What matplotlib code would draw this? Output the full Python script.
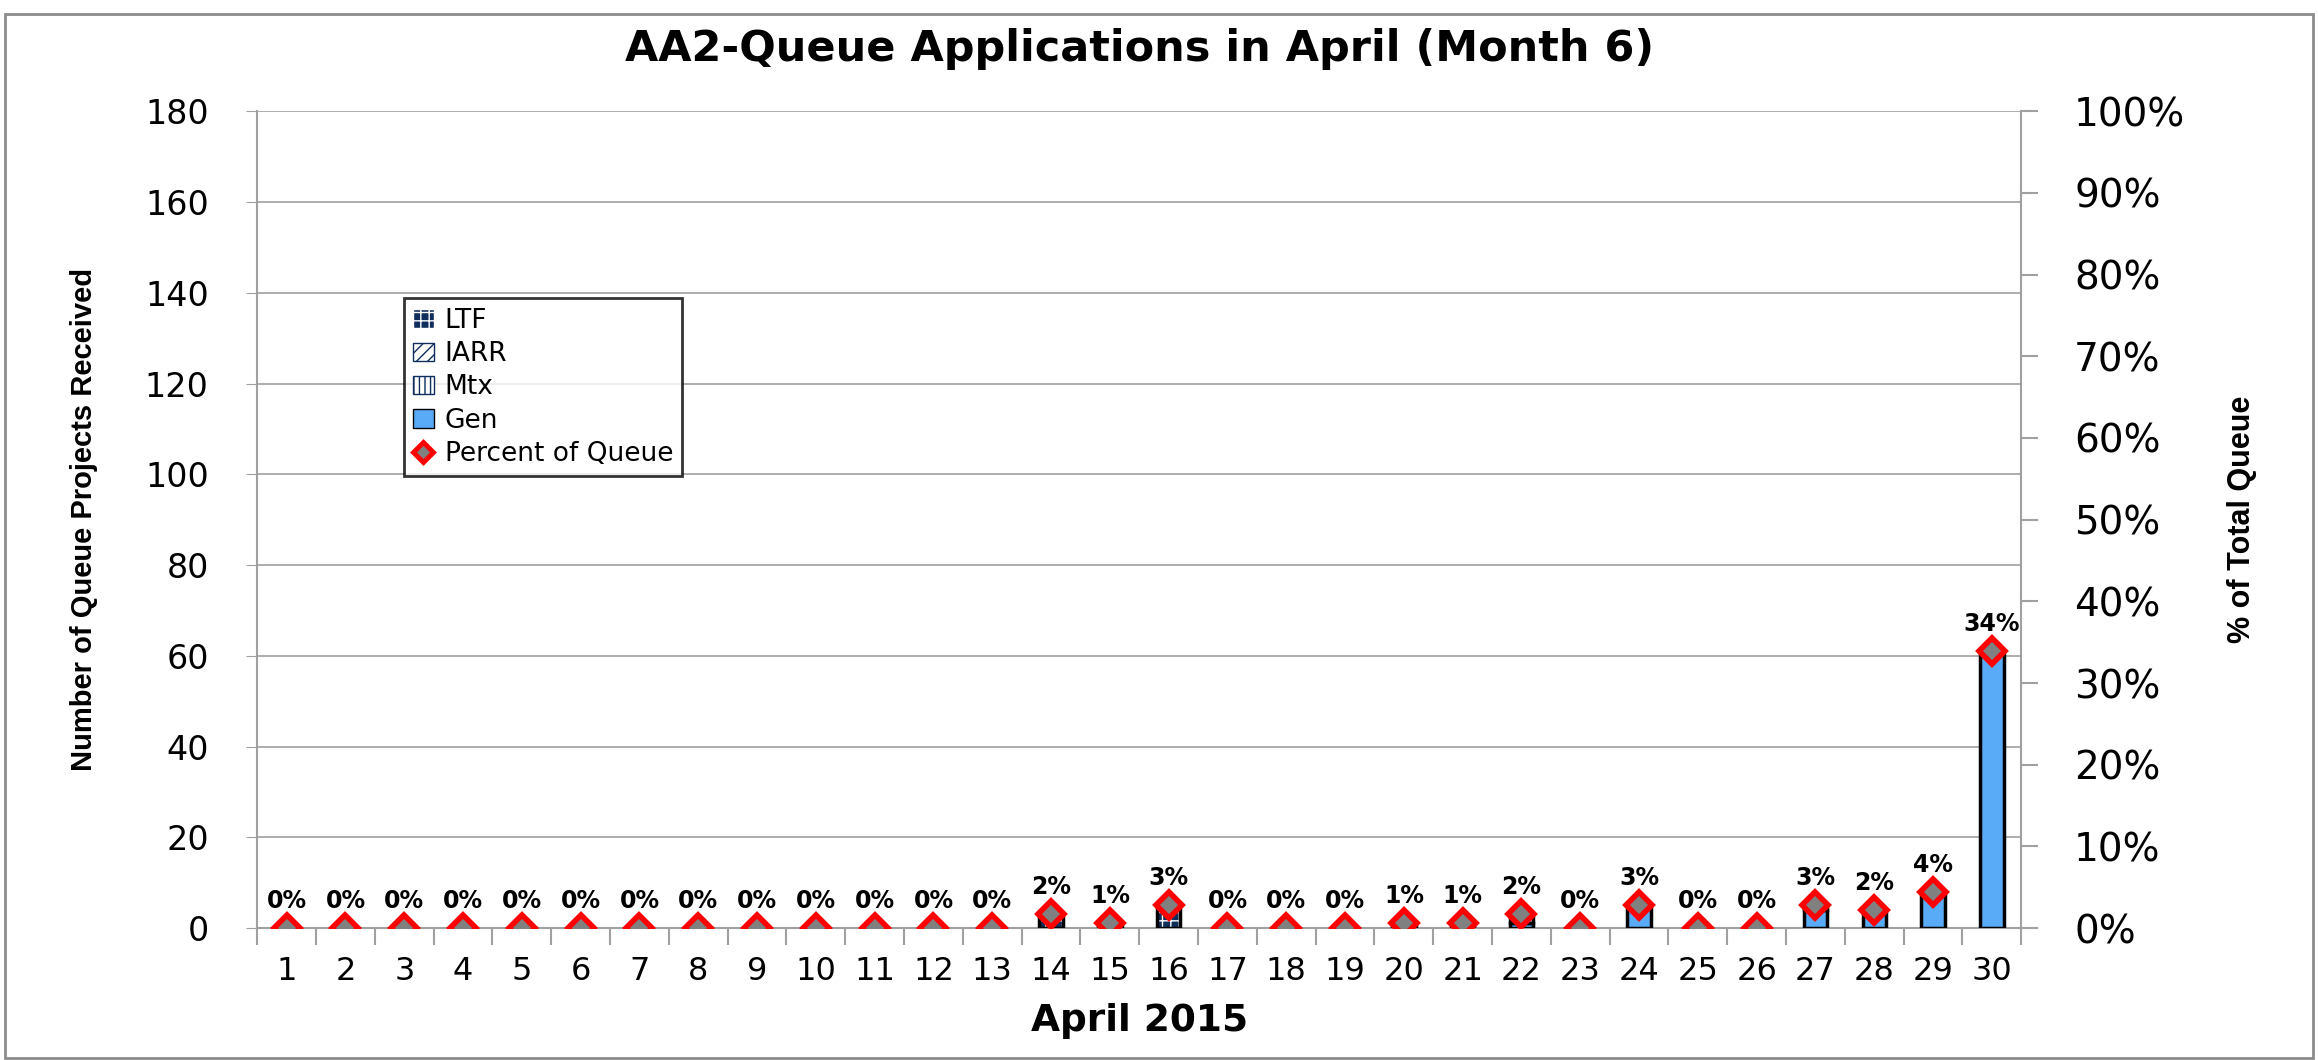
import numpy as np
import matplotlib
matplotlib.use("Agg")
import matplotlib.pyplot as plt
from matplotlib.patches import Patch, Rectangle
from matplotlib.lines import Line2D

# ---- DATA ----
days = list(range(1, 31))
ltf = [0]*13 + [3, 1, 5, 0, 0, 0, 0, 0, 2, 0, 0, 0, 0, 1, 0, 0, 0]
iarr = [0]*30
mtx = [0]*30
gen = [0]*13 + [0, 0, 0, 0, 0, 0, 1, 1, 1, 0, 5, 0, 0, 4, 4, 8, 61]
pct = [0]*13 + [1.7, 0.6, 2.8, 0, 0, 0, 0.6, 0.6, 1.7, 0, 2.8, 0, 0, 2.8, 2.2, 4.4, 33.9]
pct_labels = ["0%"]*13 + ["2%", "1%", "3%", "0%", "0%", "0%", "1%", "1%", "2%", "0%", "3%",
                          "0%", "0%", "3%", "2%", "4%", "34%"]

gen_color = "#5AABF7"
navy = "#0F2E5C"

fig = plt.figure(figsize=(23.18, 10.60), dpi=100)
fig.patches.append(Rectangle((0.002, 0.002), 0.996, 0.985, transform=fig.transFigure,
                             fill=False, edgecolor="#8c8c8c", linewidth=2))
ax = fig.add_axes([0.111, 0.1245, 0.761, 0.7705])

x = np.array(days)
w = 0.4
gen_a = np.array(gen)
ltf_a = np.array(ltf)
iarr_a = np.array(iarr)
mtx_a = np.array(mtx)

# Gen at the bottom, then Mtx, IARR, LTF stacked on top
ax.bar(x, gen_a, w, color=gen_color, edgecolor="black", linewidth=2.5, zorder=3)
b1 = gen_a
ax.bar(x, mtx_a, w, bottom=b1, color="white", edgecolor=navy, hatch="|||", linewidth=0, zorder=3)
b2 = b1 + mtx_a
ax.bar(x, iarr_a, w, bottom=b2, color="white", edgecolor=navy, hatch="///", linewidth=0, zorder=3)
b3 = b2 + iarr_a
ax.bar(x, ltf_a, w, bottom=b3, color=navy, edgecolor="white", hatch="++", linewidth=0, zorder=3)
# outlines for non-gen parts
other = mtx_a + iarr_a + ltf_a
ax.bar(x, other, w, bottom=b1, fill=False, edgecolor="black", linewidth=2.5, zorder=4)

ax.set_ylim(0, 180)
ax.set_xlim(0.5, 30.5)
ax.set_yticks(range(0, 181, 20))
ax.grid(axis="y", color="#a0a0a0", linewidth=1.2, zorder=0)
ax.set_axisbelow(True)
ax.set_xticks(x)
ax.set_xticklabels([str(d) for d in days], fontsize=23)
ax.tick_params(axis="x", length=0, pad=20)
ax.set_xticks(np.arange(0.5, 31, 1), minor=True)
ax.tick_params(axis="x", which="minor", length=12, width=1.5, color="#a0a0a0")
ax.tick_params(axis="y", labelsize=24, length=8, color="#a0a0a0", pad=27)
for s in ["top", "right"]:
    ax.spines[s].set_visible(False)
for s in ["left", "bottom"]:
    ax.spines[s].set_color("#a0a0a0")
    ax.spines[s].set_linewidth(1.5)

ax.set_ylabel("Number of Queue Projects Received", fontsize=21, fontweight="bold",
              family="Liberation Sans", labelpad=34)
ax.set_xlabel("April 2015", fontsize=27, fontweight="bold", labelpad=12)
ax.set_title("AA2-Queue Applications in April (Month 6)", fontsize=31, fontweight="bold", pad=36)

ax2 = ax.twinx()
ax2.set_ylim(0, 100)
ax2.set_yticks(range(0, 101, 10))
ax2.set_yticklabels([f"{v}%" for v in range(0, 101, 10)])
ax2.tick_params(axis="y", labelsize=28, length=12, width=1.5, color="#a0a0a0", pad=26)
for s in ["top", "left", "bottom"]:
    ax2.spines[s].set_visible(False)
ax2.spines["right"].set_color("#a0a0a0")
ax2.spines["right"].set_linewidth(1.5)
ax2.plot(x, pct, linestyle="none", marker="D", markersize=13, markerfacecolor="#808080",
         markeredgecolor="#ff0000", markeredgewidth=4, zorder=5)
for xi, p, lab in zip(x, pct, pct_labels):
    ax2.annotate(lab, (xi, p), xytext=(0, 11), textcoords="offset points", ha="center",
                 va="bottom", fontsize=17, fontweight="bold")
ax2.set_ylabel("% of Total Queue", fontsize=22, fontweight="bold",
               family="Liberation Sans", labelpad=30)

handles = [
    Patch(facecolor=navy, edgecolor="white", hatch="++", label="LTF"),
    Patch(facecolor="white", edgecolor=navy, hatch="///", label="IARR"),
    Patch(facecolor="white", edgecolor=navy, hatch="|||", label="Mtx"),
    Patch(facecolor=gen_color, edgecolor="black", label="Gen"),
    Line2D([], [], linestyle="none", marker="D", markersize=10, markerfacecolor="#808080",
           markeredgecolor="#ff0000", markeredgewidth=3.5, label="Percent of Queue"),
]
leg = ax2.legend(handles=handles, loc="upper left", bbox_to_anchor=(0.0755, 0.787),
                 fontsize=19, frameon=True, fancybox=False, edgecolor="black",
                 handlelength=0.8, handleheight=0.7, handletextpad=0.4, labelspacing=0.28,
                 borderpad=0.35)
leg.get_frame().set_linewidth(2)

fig.savefig("out.png", dpi=100)
